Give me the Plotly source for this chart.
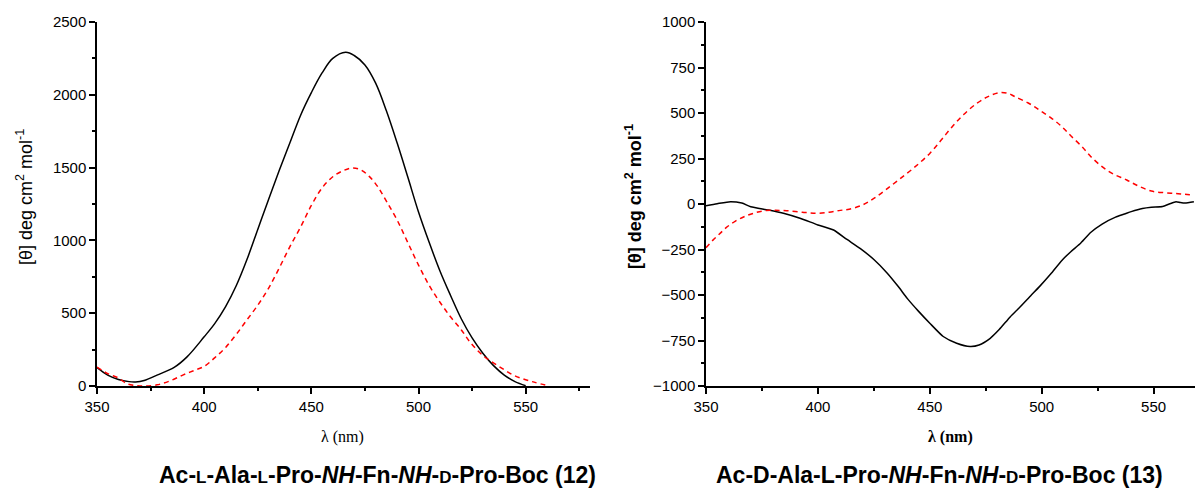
import plotly.graph_objects as go

# Left panel (12)
wl_l_black = [350, 355, 360, 365, 368, 372, 378, 386, 392, 400, 405, 410, 415, 420, 425, 430, 435, 440, 445, 450, 455, 460, 466, 470, 475, 480, 485, 490, 495, 500, 505, 510, 515, 520, 525, 530, 535, 540, 545, 550]
th_l_black = [126, 75, 45, 30, 28, 38, 75, 128, 200, 338, 430, 545, 690, 870, 1075, 1280, 1480, 1670, 1860, 2015, 2150, 2250, 2292, 2270, 2205, 2080, 1890, 1670, 1435, 1195, 985, 790, 620, 460, 330, 225, 140, 75, 30, 2]

wl_l_red = [350, 355, 360, 364, 368, 372, 378, 384, 390, 395, 400, 405, 410, 415, 420, 425, 430, 435, 440, 445, 450, 455, 460, 465, 469, 473, 477, 481, 485, 490, 495, 500, 505, 510, 515, 520, 524, 530, 538, 545, 553, 561]
th_l_red = [130, 85, 55, 15, 3, 0, 8, 35, 75, 105, 135, 195, 265, 355, 455, 555, 670, 810, 957, 1092, 1240, 1360, 1437, 1480, 1497, 1485, 1440, 1368, 1270, 1140, 985, 830, 690, 575, 474, 385, 302, 210, 130, 70, 30, 0]

# Right panel (13)
wl_r_black = [350, 355, 361, 366, 370, 378, 385, 392, 400, 407, 413, 419, 425, 431, 436, 440, 445, 450, 456, 462, 468, 472, 477, 481, 486, 490, 495, 499, 504, 509, 513, 517, 522, 527, 533, 537, 540, 545, 549, 554, 557, 560, 562, 564, 568]
th_r_black = [-9, 2, 13, 5, -15, -33, -52, -78, -115, -143, -195, -245, -305, -380, -455, -520, -590, -655, -728, -765, -783, -775, -738, -690, -619, -570, -505, -454, -385, -310, -262, -220, -155, -110, -72, -55, -42, -25, -18, -14, 0, 13, 8, 5, 12]

wl_r_red = [350, 353, 356, 359, 363, 367, 371, 376, 381, 386, 393, 399, 405, 410, 414, 420, 425, 430, 436, 443, 450, 455, 460, 465, 471, 476, 481, 485, 488, 494, 499, 504, 509, 513, 518, 522, 527, 532, 538, 543, 549, 555, 560, 564, 568]
th_r_red = [-240, -200, -165, -130, -95, -70, -52, -37, -35, -37, -45, -51, -45, -35, -29, -5, 31, 75, 132, 200, 278, 350, 425, 490, 553, 590, 612, 608, 590, 555, 516, 475, 425, 375, 315, 260, 205, 165, 132, 100, 71, 62, 58, 53, 49]

x_ticks = [350, 400, 450, 500, 550]
y_ticks_l = [0, 500, 1000, 1500, 2000, 2500]
y_ticks_r = [-1000, -750, -500, -250, 0, 250, 500, 750, 1000]

ytitle = "[θ] deg cm<sup>2</sup> mol<sup>-1</sup>"
sc = '<span style="font-size:17px">{}</span>'
cap_l = ("<b>Ac-" + sc.format("L") + "-Ala-" + sc.format("L") + "-Pro-<i>NH</i>-Fn-<i>NH</i>-"
         + sc.format("D") + "-Pro-Boc (12)</b>")
cap_r = ("<b>Ac-D-Ala-L-Pro-<i>NH</i>-Fn-<i>NH</i>-" + sc.format("D") + "-Pro-Boc (13)</b>")

BLACK = "#000000"
RED = "#ff0000"

fig = go.Figure()
fig.add_trace(go.Scatter(x=wl_l_black, y=th_l_black, mode="lines", line=dict(color=BLACK, width=1.5, shape="spline"), xaxis="x", yaxis="y"))
fig.add_trace(go.Scatter(x=wl_l_red, y=th_l_red, mode="lines", line=dict(color=RED, width=1.5, dash="5px,4px", shape="spline"), xaxis="x", yaxis="y"))
fig.add_trace(go.Scatter(x=wl_r_black, y=th_r_black, mode="lines", line=dict(color=BLACK, width=1.5, shape="spline", smoothing=0.6), xaxis="x2", yaxis="y2"))
fig.add_trace(go.Scatter(x=wl_r_red, y=th_r_red, mode="lines", line=dict(color=RED, width=1.5, dash="5px,4px", shape="spline"), xaxis="x2", yaxis="y2"))

tickfont = dict(family="Arial, Liberation Sans, sans-serif", size=15, color="black")
common_axis = dict(showline=True, linecolor="black", linewidth=1.5, ticks="outside", ticklen=6,
                   tickwidth=1.5, tickcolor="black", showgrid=False, zeroline=False, tickfont=tickfont,
                   mirror=False, automargin=False)

minor_x = dict(dtick=25, tick0=350, ticklen=3, tickwidth=1.5, ticks="outside", tickcolor="black")

fig.update_layout(
    width=1195, height=489, margin=dict(l=0, r=0, t=0, b=0, autoexpand=False),
    paper_bgcolor="white", plot_bgcolor="white", showlegend=False,
    xaxis=dict(domain=[97/1195, 590/1195], range=[350, 580], tickvals=x_ticks, anchor="y",
               minor=minor_x, **common_axis),
    yaxis=dict(domain=[1-386/489, 1-22/489], range=[0, 2500], tickvals=y_ticks_l, anchor="x",
               minor=dict(dtick=250, tick0=0, ticklen=3, tickwidth=1.5, ticks="outside", tickcolor="black"),
               **common_axis),
    xaxis2=dict(domain=[706/1195, 1.0], range=[350, 568.5], tickvals=x_ticks, anchor="y2",
                minor=minor_x, **common_axis),
    yaxis2=dict(domain=[1-386/489, 1-22/489], range=[-1000, 1000], tickvals=y_ticks_r, anchor="x2",
                minor=dict(dtick=125, tick0=0, ticklen=3, tickwidth=1.5, ticks="outside", tickcolor="black"),
                **common_axis),
)

afont = dict(family="Arial, Liberation Sans, sans-serif", size=18, color="black")
sfont = dict(family="Times New Roman, Liberation Serif, serif", size=16, color="black")
capfont = dict(family="Arial, Liberation Sans, sans-serif", size=23, color="black")

ann = [
    dict(x=24/1195, y=1-197/489, text=ytitle, textangle=-90, font=afont),
    dict(x=633/1195, y=1-197/489, text="<b>" + ytitle + "</b>", textangle=-90, font=afont),
    dict(x=342/1195, y=1-437/489, text="λ (nm)", font=sfont),
    dict(x=950/1195, y=1-437/489, text="<b>λ (nm)</b>", font=sfont),
    dict(x=377/1195, y=1-475/489, text=cap_l, font=capfont),
    dict(x=939/1195, y=1-475/489, text=cap_r, font=capfont),
]
for a in ann:
    a.update(xref="paper", yref="paper", showarrow=False, xanchor="center", yanchor="middle")
fig.update_layout(annotations=ann)

fig.write_html("out.html")
